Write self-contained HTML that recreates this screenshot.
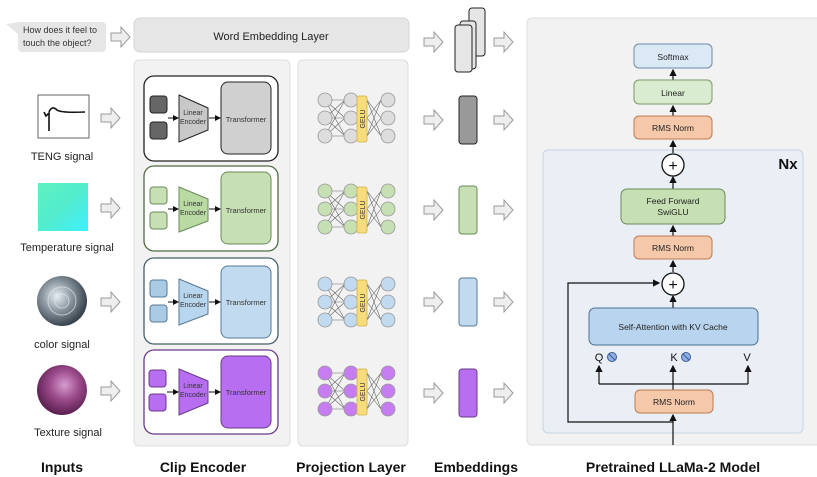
<!DOCTYPE html>
<html><head><meta charset="utf-8"><style>
body{margin:0;background:#fff}
svg{display:block;font-family:"Liberation Sans",sans-serif}
</style></head><body>
<svg width="817" height="477" viewBox="0 0 817 477" xmlns="http://www.w3.org/2000/svg">
<defs>
<marker id="ah" markerWidth="6" markerHeight="6" refX="5" refY="3" orient="auto"><path d="M0,0 L6,3 L0,6 z" fill="#111"/></marker>
<g id="arr"><path d="M0,-4 h10 v-6 l9,10 l-9,10 v-6 h-10 z" fill="#eee" stroke="#999" stroke-width="1"/></g>
<radialGradient id="silver" cx="40%" cy="40%" r="60%"><stop offset="0" stop-color="#e8eef2"/><stop offset="0.5" stop-color="#8a96a0"/><stop offset="1" stop-color="#3a4550"/></radialGradient>
<radialGradient id="purp" cx="55%" cy="40%" r="60%"><stop offset="0" stop-color="#d79ccf"/><stop offset="0.5" stop-color="#9a4a8a"/><stop offset="1" stop-color="#5a1f50"/></radialGradient>
<linearGradient id="temp" x1="0" y1="0" x2="1" y2="1"><stop offset="0" stop-color="#5ff2c0"/><stop offset="0.5" stop-color="#52eccd"/><stop offset="1" stop-color="#3ef0ff"/></linearGradient>
</defs>

<!-- top: question -->
<path d="M20,22 h82 a4,4 0 0 1 4,4 v22 a4,4 0 0 1 -4,4 h-80 a4,4 0 0 1 -4,-4 v-14 l-12,-10 z" fill="#e6e6e6"/>
<text x="23" y="33" font-size="9" fill="#333">How does it feel to</text>
<text x="23" y="46" font-size="9" fill="#333">touch the object?</text>
<use href="#arr" x="111" y="37"/>
<rect x="134" y="18" width="275" height="34" rx="6" fill="#e6e6e6" stroke="#d6d6d6"/>
<text x="271" y="40" font-size="11" text-anchor="middle" fill="#222">Word Embedding Layer</text>

<!-- panels -->
<rect x="134" y="60" width="156" height="386" rx="5" fill="#f2f2f2" stroke="#ddd"/>
<rect x="298" y="60" width="110" height="386" rx="5" fill="#f2f2f2" stroke="#ddd"/>

<!-- inputs -->
<rect x="38" y="95" width="51" height="43" fill="#fff" stroke="#666"/>
<path d="M44,112 l2,4 l3,-3 v18 M49,112 q3,-7 8,-2 q4,3 28,2" fill="none" stroke="#111" stroke-width="1.6"/>
<text x="62" y="160" font-size="11" text-anchor="middle" fill="#222">TENG signal</text>
<rect x="38" y="183" width="50" height="48" fill="url(#temp)"/>
<text x="67" y="251" font-size="11" text-anchor="middle" fill="#222">Temperature signal</text>
<circle cx="62" cy="301" r="25" fill="url(#silver)"/>
<circle cx="62" cy="301" r="14" fill="none" stroke="#dfe6ea" stroke-width="1" opacity="0.7"/>
<circle cx="62" cy="301" r="7" fill="none" stroke="#dfe6ea" stroke-width="1" opacity="0.7"/>
<text x="62" y="348" font-size="11" text-anchor="middle" fill="#222">color signal</text>
<circle cx="62" cy="390" r="25" fill="url(#purp)"/>
<text x="68" y="436" font-size="11" text-anchor="middle" fill="#222">Texture signal</text>
<use href="#arr" x="101" y="118"/>
<use href="#arr" x="101" y="208"/>
<use href="#arr" x="101" y="302"/>
<use href="#arr" x="101" y="391"/>

<!-- encoder row 1 -->
<g>
<rect x="144" y="76" width="134" height="85" rx="10" fill="#fff" stroke="#222" stroke-width="1.3"/>
<rect x="150" y="96" width="17" height="17" rx="3" fill="#666" stroke="#222"/>
<rect x="150" y="122" width="17" height="17" rx="3" fill="#666" stroke="#222"/>
<path d="M179,95 L208,108 L208,130 L179,142 z" fill="#c8c8c8" stroke="#222"/>
<rect x="221" y="82" width="50" height="72" rx="7" fill="#d0d0d0" stroke="#222"/>
<line x1="168" y1="118" x2="178" y2="118" stroke="#111" marker-end="url(#ah)"/>
<line x1="209" y1="118" x2="220" y2="118" stroke="#111" marker-end="url(#ah)"/>
<text x="193" y="115" font-size="7" text-anchor="middle" fill="#333">Linear</text>
<text x="193" y="124" font-size="7" text-anchor="middle" fill="#333">Encoder</text>
<text x="246" y="122" font-size="7.5" text-anchor="middle" fill="#333">Transformer</text>
</g>
<!-- row 2 green -->
<g>
<rect x="144" y="166" width="134" height="85" rx="10" fill="#fff" stroke="#4f6b45" stroke-width="1.3"/>
<rect x="150" y="187" width="17" height="17" rx="3" fill="#c6e0b4" stroke="#6a8a5a"/>
<rect x="150" y="212" width="17" height="17" rx="3" fill="#c6e0b4" stroke="#6a8a5a"/>
<path d="M179,187 L208,199 L208,221 L179,232 z" fill="#b9dba3" stroke="#6a8a5a"/>
<rect x="221" y="172" width="50" height="72" rx="7" fill="#c6e0b4" stroke="#6a8a5a"/>
<line x1="168" y1="209" x2="178" y2="209" stroke="#111" marker-end="url(#ah)"/>
<line x1="209" y1="209" x2="220" y2="209" stroke="#111" marker-end="url(#ah)"/>
<text x="193" y="206" font-size="7" text-anchor="middle" fill="#333">Linear</text>
<text x="193" y="215" font-size="7" text-anchor="middle" fill="#333">Encoder</text>
<text x="246" y="213" font-size="7.5" text-anchor="middle" fill="#333">Transformer</text>
</g>
<!-- row 3 blue -->
<g>
<rect x="144" y="258" width="134" height="86" rx="10" fill="#fff" stroke="#45606b" stroke-width="1.3"/>
<rect x="150" y="280" width="17" height="17" rx="3" fill="#a9cbe6" stroke="#557a96"/>
<rect x="150" y="305" width="17" height="17" rx="3" fill="#a9cbe6" stroke="#557a96"/>
<path d="M179,279 L208,291 L208,314 L179,325 z" fill="#b8d6ee" stroke="#557a96"/>
<rect x="221" y="266" width="50" height="72" rx="7" fill="#c2daf0" stroke="#557a96"/>
<line x1="168" y1="302" x2="178" y2="302" stroke="#111" marker-end="url(#ah)"/>
<line x1="209" y1="302" x2="220" y2="302" stroke="#111" marker-end="url(#ah)"/>
<text x="193" y="298" font-size="7" text-anchor="middle" fill="#333">Linear</text>
<text x="193" y="307" font-size="7" text-anchor="middle" fill="#333">Encoder</text>
<text x="246" y="305" font-size="7.5" text-anchor="middle" fill="#333">Transformer</text>
</g>
<!-- row 4 purple -->
<g>
<rect x="144" y="350" width="134" height="84" rx="10" fill="#fff" stroke="#6a3a86" stroke-width="1.3"/>
<rect x="149" y="370" width="17" height="17" rx="3" fill="#b86ef0" stroke="#6a3a86"/>
<rect x="149" y="394" width="17" height="17" rx="3" fill="#b86ef0" stroke="#6a3a86"/>
<path d="M179,369 L208,381 L208,403 L179,415 z" fill="#b86ef0" stroke="#6a3a86"/>
<rect x="221" y="356" width="50" height="72" rx="7" fill="#b86ef0" stroke="#6a3a86"/>
<line x1="167" y1="392" x2="178" y2="392" stroke="#111" marker-end="url(#ah)"/>
<line x1="209" y1="392" x2="220" y2="392" stroke="#111" marker-end="url(#ah)"/>
<text x="193" y="388" font-size="7" text-anchor="middle" fill="#333">Linear</text>
<text x="193" y="397" font-size="7" text-anchor="middle" fill="#333">Encoder</text>
<text x="246" y="395" font-size="7.5" text-anchor="middle" fill="#333">Transformer</text>
</g>

<!-- projection nets -->
<g stroke="#666" stroke-width="0.6">
<path d="M325,100 L345,118 M325,100 L345,136 M325,118 L345,100 M325,118 L345,136 M325,136 L345,100 M325,136 L345,118 M325,100 H345 M325,118 H345 M325,136 H345 M367,100 L381,118 M367,100 L381,136 M367,118 L381,100 M367,118 L381,136 M367,136 L381,100 M367,136 L381,118"/>
<path transform="translate(0,91)" d="M325,100 L345,118 M325,100 L345,136 M325,118 L345,100 M325,118 L345,136 M325,136 L345,100 M325,136 L345,118 M325,100 H345 M325,118 H345 M325,136 H345 M367,100 L381,118 M367,100 L381,136 M367,118 L381,100 M367,118 L381,136 M367,136 L381,100 M367,136 L381,118"/>
<path transform="translate(0,184)" d="M325,100 L345,118 M325,100 L345,136 M325,118 L345,100 M325,118 L345,136 M325,136 L345,100 M325,136 L345,118 M325,100 H345 M325,118 H345 M325,136 H345 M367,100 L381,118 M367,100 L381,136 M367,118 L381,100 M367,118 L381,136 M367,136 L381,100 M367,136 L381,118"/>
<path transform="translate(0,273)" d="M325,100 L345,118 M325,100 L345,136 M325,118 L345,100 M325,118 L345,136 M325,136 L345,100 M325,136 L345,118 M325,100 H345 M325,118 H345 M325,136 H345 M367,100 L381,118 M367,100 L381,136 M367,118 L381,100 M367,118 L381,136 M367,136 L381,100 M367,136 L381,118"/>
</g>
<!-- net circles & GELU -->
<g stroke="#999" stroke-width="0.8">
<g fill="#ddd"><circle cx="325" cy="100" r="7"/><circle cx="325" cy="118" r="7"/><circle cx="325" cy="136" r="7"/><circle cx="351" cy="100" r="7"/><circle cx="351" cy="118" r="7"/><circle cx="351" cy="136" r="7"/><circle cx="388" cy="100" r="7"/><circle cx="388" cy="118" r="7"/><circle cx="388" cy="136" r="7"/></g>
<g fill="#c6e0b4"><circle cx="325" cy="191" r="7"/><circle cx="325" cy="209" r="7"/><circle cx="325" cy="227" r="7"/><circle cx="351" cy="191" r="7"/><circle cx="351" cy="209" r="7"/><circle cx="351" cy="227" r="7"/><circle cx="388" cy="191" r="7"/><circle cx="388" cy="209" r="7"/><circle cx="388" cy="227" r="7"/></g>
<g fill="#c2daf0"><circle cx="325" cy="284" r="7"/><circle cx="325" cy="302" r="7"/><circle cx="325" cy="320" r="7"/><circle cx="351" cy="284" r="7"/><circle cx="351" cy="302" r="7"/><circle cx="351" cy="320" r="7"/><circle cx="388" cy="284" r="7"/><circle cx="388" cy="302" r="7"/><circle cx="388" cy="320" r="7"/></g>
<g fill="#c77df2"><circle cx="325" cy="373" r="7"/><circle cx="325" cy="391" r="7"/><circle cx="325" cy="409" r="7"/><circle cx="351" cy="373" r="7"/><circle cx="351" cy="391" r="7"/><circle cx="351" cy="409" r="7"/><circle cx="388" cy="373" r="7"/><circle cx="388" cy="391" r="7"/><circle cx="388" cy="409" r="7"/></g>
</g>
<g fill="#f7dc7e" stroke="#d4b040" stroke-width="0.8">
<rect x="357" y="96" width="10" height="46" rx="2"/><rect x="357" y="187" width="10" height="46" rx="2"/><rect x="357" y="280" width="10" height="46" rx="2"/><rect x="357" y="369" width="10" height="46" rx="2"/>
</g>
<g font-size="7" fill="#333" text-anchor="middle">
<text transform="translate(365,119) rotate(-90)">GELU</text>
<text transform="translate(365,210) rotate(-90)">GELU</text>
<text transform="translate(365,303) rotate(-90)">GELU</text>
<text transform="translate(365,392) rotate(-90)">GELU</text>
</g>

<!-- embeddings -->
<use href="#arr" x="424" y="42"/>
<use href="#arr" x="494" y="42"/>
<rect x="469" y="8" width="16" height="48" rx="3" fill="#e6e6e6" stroke="#222"/>
<rect x="460" y="21" width="16" height="48" rx="3" fill="#e6e6e6" stroke="#222"/>
<rect x="455" y="25" width="17" height="47" rx="3" fill="#e6e6e6" stroke="#222"/>
<use href="#arr" x="424" y="120"/><use href="#arr" x="494" y="120"/>
<use href="#arr" x="424" y="210"/><use href="#arr" x="494" y="210"/>
<use href="#arr" x="424" y="302"/><use href="#arr" x="494" y="302"/>
<use href="#arr" x="424" y="393"/><use href="#arr" x="494" y="393"/>
<rect x="459" y="96" width="18" height="48" rx="3" fill="#999" stroke="#222"/>
<rect x="459" y="186" width="18" height="48" rx="3" fill="#c6e0b4" stroke="#6a8a5a"/>
<rect x="459" y="278" width="18" height="48" rx="3" fill="#c2daf0" stroke="#557a96"/>
<rect x="459" y="369" width="18" height="48" rx="3" fill="#b86ef0" stroke="#6a3a86"/>

<!-- LLaMa panel -->
<rect x="527" y="18" width="296" height="427" rx="5" fill="#f2f2f2" stroke="#ddd"/>
<rect x="543" y="150" width="260" height="283" rx="5" fill="#e9eff5" stroke="#c5d4e2"/>
<text x="788" y="169" font-size="15" font-weight="bold" text-anchor="middle" fill="#111">Nx</text>
<g stroke="#111" stroke-width="1.2" fill="none">
<line x1="673" y1="80" x2="673" y2="70" marker-end="url(#ah)"/>
<line x1="673" y1="116" x2="673" y2="106" marker-end="url(#ah)"/>
<line x1="673" y1="153" x2="673" y2="141" marker-end="url(#ah)"/>
<line x1="673" y1="189" x2="673" y2="177" marker-end="url(#ah)"/>
<line x1="673" y1="236" x2="673" y2="226" marker-end="url(#ah)"/>
<line x1="673" y1="272" x2="673" y2="261" marker-end="url(#ah)"/>
<line x1="673" y1="308" x2="673" y2="296" marker-end="url(#ah)"/>
<line x1="673" y1="445" x2="673" y2="415" marker-end="url(#ah)"/>
<line x1="673" y1="390" x2="673" y2="366" marker-end="url(#ah)"/>
<path d="M599,384 H748"/>
<line x1="599" y1="384" x2="599" y2="366" marker-end="url(#ah)"/>
<line x1="748" y1="384" x2="748" y2="366" marker-end="url(#ah)"/>
<path d="M673,422 H568 V283 H659" marker-end="url(#ah)"/>
</g>
<rect x="634" y="44" width="78" height="24" rx="5" fill="#dbe8f6" stroke="#6b8bab"/>
<text x="673" y="60" font-size="8.5" text-anchor="middle" fill="#222">Softmax</text>
<rect x="634" y="80" width="78" height="24" rx="5" fill="#d9ecd0" stroke="#7a9a6a"/>
<text x="673" y="96" font-size="8.5" text-anchor="middle" fill="#222">Linear</text>
<rect x="634" y="116" width="78" height="23" rx="5" fill="#f6c8aa" stroke="#c07a50"/>
<text x="673" y="131" font-size="8.5" text-anchor="middle" fill="#222">RMS Norm</text>
<circle cx="673" cy="165" r="11" fill="#fff" stroke="#111" stroke-width="1.3"/>
<text x="673" y="171" font-size="16" text-anchor="middle" fill="#111">+</text>
<rect x="621" y="189" width="104" height="35" rx="6" fill="#c6e0b4" stroke="#6a8a5a"/>
<text x="673" y="204" font-size="8.5" text-anchor="middle" fill="#222">Feed Forward</text>
<text x="673" y="215" font-size="8.5" text-anchor="middle" fill="#222">SwiGLU</text>
<rect x="634" y="236" width="78" height="23" rx="5" fill="#f6c8aa" stroke="#c07a50"/>
<text x="673" y="251" font-size="8.5" text-anchor="middle" fill="#222">RMS Norm</text>
<circle cx="673" cy="284" r="11" fill="#fff" stroke="#111" stroke-width="1.3"/>
<text x="673" y="290" font-size="16" text-anchor="middle" fill="#111">+</text>
<rect x="589" y="308" width="169" height="37" rx="6" fill="#b8d4ee" stroke="#4f6f90"/>
<text x="673" y="330" font-size="8.5" text-anchor="middle" fill="#222">Self-Attention with KV Cache</text>
<text x="599" y="361" font-size="11" text-anchor="middle" fill="#111">Q</text>
<circle cx="612" cy="357" r="4.5" fill="#8fb0e0" stroke="#3a5a9a"/><line x1="609" y1="354" x2="615" y2="360" stroke="#3a5a9a"/>
<text x="674" y="361" font-size="11" text-anchor="middle" fill="#111">K</text>
<circle cx="686" cy="357" r="4.5" fill="#8fb0e0" stroke="#3a5a9a"/><line x1="683" y1="354" x2="689" y2="360" stroke="#3a5a9a"/>
<text x="747" y="361" font-size="11" text-anchor="middle" fill="#111">V</text>
<rect x="635" y="390" width="78" height="23" rx="5" fill="#f6c8aa" stroke="#c07a50"/>
<text x="674" y="405" font-size="8.5" text-anchor="middle" fill="#222">RMS Norm</text>

<!-- bottom labels -->
<g font-size="14" font-weight="bold" text-anchor="middle" fill="#111">
<text x="62" y="472">Inputs</text>
<text x="203" y="472">Clip Encoder</text>
<text x="351" y="472">Projection Layer</text>
<text x="476" y="472">Embeddings</text>
<text x="673" y="472">Pretrained LLaMa-2 Model</text>
</g>
</svg>
</body></html>
